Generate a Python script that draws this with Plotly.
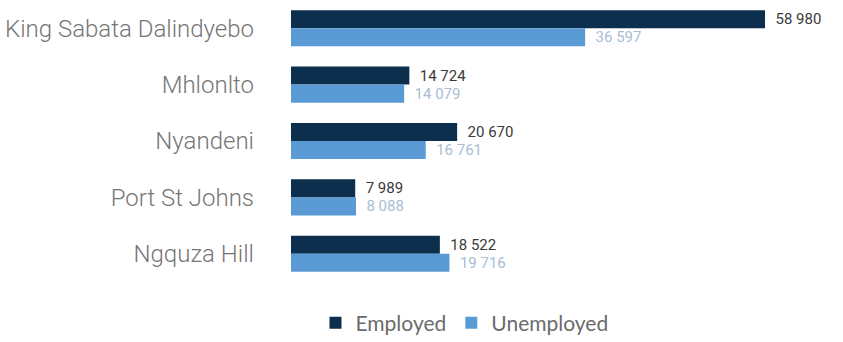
import plotly.graph_objects as go

municipalities = ["King Sabata Dalindyebo", "Mhlonlto", "Nyandeni", "Port St Johns", "Ngquza Hill"]
employed = [58980, 14724, 20670, 7989, 18522]
unemployed = [36597, 14079, 16761, 8088, 19716]

DARK = "#0b2f4c"
LIGHT = "#5b9bd5"

fig = go.Figure()
fig.add_trace(go.Bar(
    name="Employed", y=municipalities, x=employed, orientation="h",
    marker=dict(color=DARK, line=dict(width=0)),
    texttemplate="\u00a0\u00a0%{x:,}", textposition="outside",
    outsidetextfont=dict(family="Roboto", size=15, color="#3a3a3a"),
    cliponaxis=False,
))
fig.add_trace(go.Bar(
    name="Unemployed", y=municipalities, x=unemployed, orientation="h",
    marker=dict(color=LIGHT, line=dict(width=0)),
    texttemplate="\u00a0\u00a0%{x:,}", textposition="outside",
    outsidetextfont=dict(family="Roboto", size=15, color="#a8bdd4"),
    cliponaxis=False,
))

fig.update_layout(
    width=843, height=342,
    margin=dict(l=291, r=5, t=0, b=60),
    paper_bgcolor="white", plot_bgcolor="white",
    barmode="group", bargap=0.36, bargroupgap=0,
    separators=", ",
    font=dict(family="Roboto", color="#666666"),
    showlegend=True,
    legend=dict(
        orientation="h", traceorder="normal",
        xref="container", x=0.551, xanchor="center",
        yref="container", y=0.055, yanchor="middle",
        font=dict(family="Lato", size=21, color="#6b6b6b"),
    ),
    xaxis=dict(range=[0, 68060], visible=False, showgrid=False, zeroline=False),
    yaxis=dict(
        autorange="reversed", showgrid=False, zeroline=False, showline=False,
        ticks="", ticklabelstandoff=36,
        tickfont=dict(family="Roboto", size=24, color="#767676", weight=300),
    ),
)

fig.write_html("out.html")
